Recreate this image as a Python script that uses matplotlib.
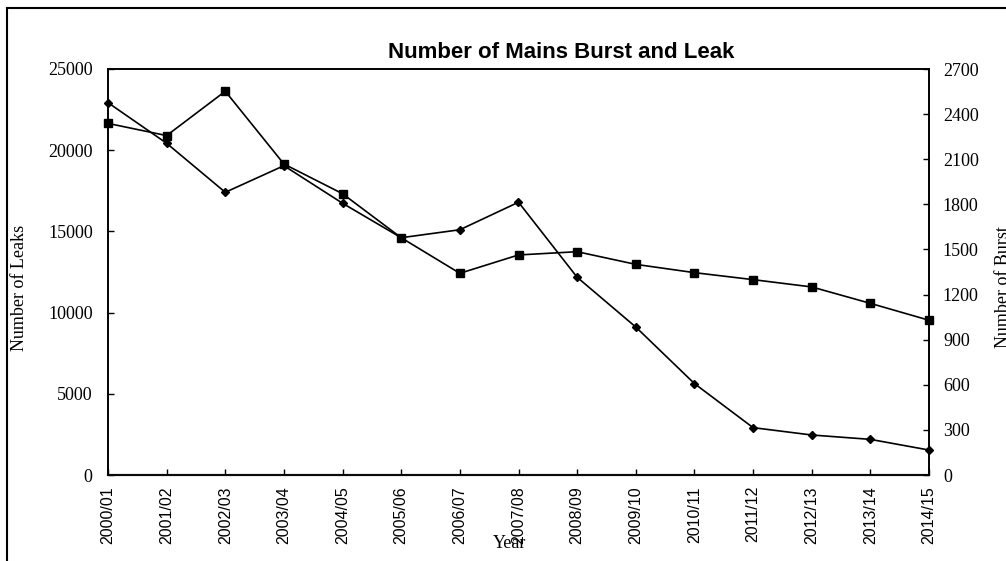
import matplotlib
matplotlib.use("Agg")
import matplotlib.pyplot as plt
from matplotlib.patches import Rectangle

# ── Data ────────────────────────────────────────────────────────────────────
years = ["2000/01", "2001/02", "2002/03", "2003/04", "2004/05", "2005/06",
         "2006/07", "2007/08", "2008/09", "2009/10", "2010/11", "2011/12",
         "2012/13", "2013/14", "2014/15"]
leaks = [21650, 20900, 23630, 19150, 17320, 14610, 12420, 13550, 13750,
         12970, 12460, 12030, 11580, 10570, 9530]
bursts = [2476, 2206, 1880, 2057, 1807, 1578, 1631, 1814, 1315,
          984, 608, 315, 266, 237, 166]
leak_ticks = [0, 5000, 10000, 15000, 20000, 25000]
burst_ticks = list(range(0, 2701, 300))

SERIF = "Liberation Serif"
SANS = "Liberation Sans"
W, H = 1006, 561

fig = plt.figure(figsize=(W / 100, H / 100), dpi=100)
ax1 = fig.add_axes([108 / W, 1 - 475 / H, (929 - 108) / W, (475 - 69) / H])
ax2 = ax1.twinx()

x = list(range(len(years)))
ax1.plot(x, leaks, color="black", lw=1.2, marker="s", ms=5.5, zorder=3,
         clip_on=False)
ax2.plot(x, bursts, color="black", lw=1.2, marker="D", ms=4.5, zorder=3,
         clip_on=False)

ax1.set_xlim(0, len(years) - 1)
ax1.set_ylim(0, 25000)
ax2.set_ylim(0, 2700)
ax1.set_xticks(x)
ax1.set_xticklabels(years, rotation=90, fontfamily=SANS, fontsize=11.5)
ax1.set_yticks(leak_ticks)
ax1.set_yticklabels([str(v) for v in leak_ticks], fontfamily=SERIF, fontsize=13)
ax2.set_yticks(burst_ticks)
ax2.set_yticklabels([str(v) for v in burst_ticks], fontfamily=SERIF, fontsize=13)

ax1.tick_params(axis="y", direction="in", length=4, width=1, pad=11)
ax1.tick_params(axis="x", direction="in", length=4, width=1, pad=8)
ax2.tick_params(axis="y", direction="in", length=4, width=1, pad=10)

for a in (ax1, ax2):
    for s in a.spines.values():
        s.set_linewidth(1.2)
        s.set_color("black")
ax1.spines["bottom"].set_color("#444444")
ax1.spines["bottom"].set_linewidth(1.6)

# titles and axis labels
fig.text(561 / W, 1 - 52 / H, "Number of Mains Burst and Leak",
         ha="center", va="center", fontfamily=SANS, fontweight="bold", fontsize=16)
fig.text(20 / W, 1 - 288 / H, "Number of Leaks", rotation=90,
         ha="center", va="center", fontfamily=SERIF, fontsize=13)
fig.text(1003 / W, 1 - 287 / H, "Number of Burst", rotation=90,
         ha="center", va="center", fontfamily=SERIF, fontsize=13)
fig.text(510 / W, 1 - 543 / H, "Year", ha="center", va="center",
         fontfamily=SERIF, fontsize=13)

# outer frame, running off the right and bottom edges
fig.patches.append(Rectangle((6.5 / W, -0.1), 1.1, 1.1 - 7.5 / H,
                             transform=fig.transFigure, fill=False,
                             lw=1.5, edgecolor="black"))

fig.savefig("out.png", dpi=100)
